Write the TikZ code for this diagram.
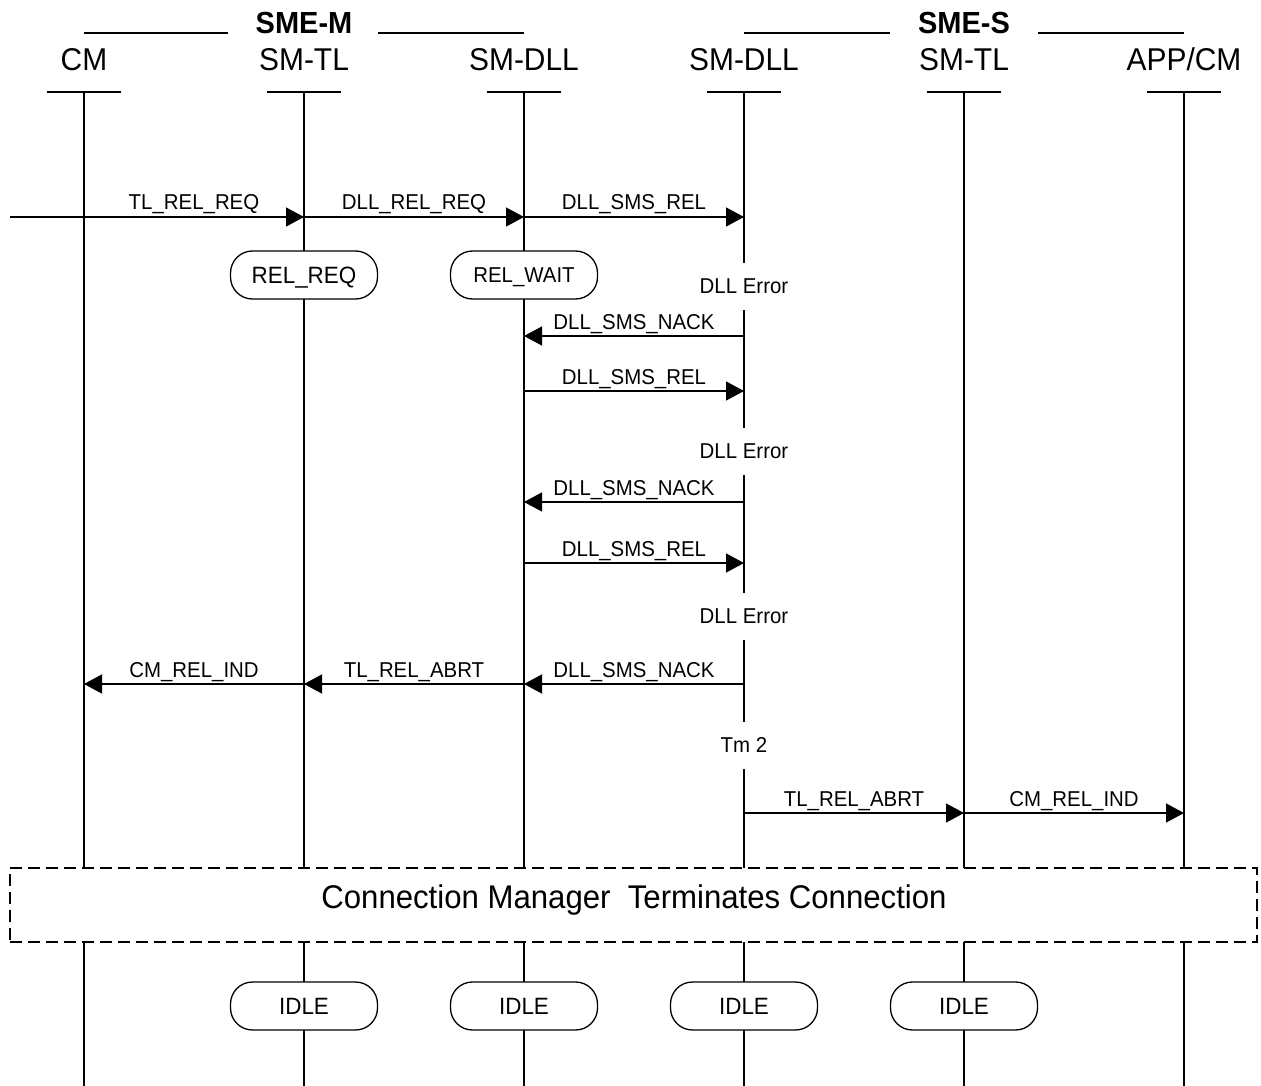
\documentclass[tikz,border=0pt]{standalone}
\usepackage{fontspec}
\setmainfont[FakeStretch=0.95]{Liberation Sans}
\usetikzlibrary{arrows.meta,calc}
\begin{document}
\begin{tikzpicture}[x=1pt,y=-1pt,line width=1.3pt,
  head/.style={font=\fontsize{31.5}{36}\selectfont, anchor=base, inner sep=0pt},
  grp/.style={font=\fontsize{30.5}{34}\selectfont\bfseries, anchor=base, inner sep=0pt},
  lbl/.style={font=\fontsize{21.5}{24}\selectfont, anchor=base, inner sep=0pt, yshift=7pt},
  note/.style={font=\fontsize{21.5}{24}\selectfont, fill=white, inner xsep=2pt, inner ysep=0pt, minimum height=47pt, text height=15.4pt, text depth=0pt},
  state/.style={draw, fill=white, rounded corners=22pt, minimum width=147pt, minimum height=48pt, inner sep=0pt, text height=16.8pt, text depth=0pt, font=\fontsize{23.6}{26}\selectfont},
  msg/.style={-{Triangle[length=18pt,width=19pt]}},
  cmbox/.style={draw, dashed, dash pattern=on 12pt off 6pt, fill=white, minimum width=1247pt, minimum height=74pt, inner sep=0pt}]
\useasboundingbox (0,0) rectangle (1261,1086);

% lifeline tops and bottoms
\foreach \i/\x in {1/84,2/304,3/524,4/744,5/964,6/1184}{
  \coordinate (L\i) at (\x,92);
  \coordinate (B\i) at (\x,1086);
}

% headers
\node[head] (hCM) at (84,71) {CM};
\node[head] (hTLm) at (304,71) {SM-TL};
\node[head] (hDLLm) at (524,71) {SM-DLL};
\node[head] (hDLLs) at (744,71) {SM-DLL};
\node[head] (hTLs) at (964,71) {SM-TL};
\node[head] (hAPP) at (1184,71) {APP/CM};
\foreach \i in {1,...,6}{
  \draw ([xshift=-37pt]L\i) -- ([xshift=37pt]L\i);
}

% group titles
\node[grp] (smem) at (304,34) {SME-M};
\node[grp] (smes) at (964,34) {SME-S};
\draw (84,33) -- (228,33);
\draw (378,33) -- (524,33);
\draw (744,33) -- (890,33);
\draw (1038,33) -- (1184,33);

% lifelines
\foreach \i in {1,...,6}{
  \draw (L\i) -- (B\i);
}

% messages
\coordinate (in) at (10,217);
\draw[msg] (in) -- (L2 |- 0,217);
\node[lbl] (m1) at ($(L1 |- 0,217)!0.5!(L2 |- 0,217)$) {TL\_REL\_REQ};
\draw[msg] (L2 |- 0,217) -- (L3 |- 0,217) node[lbl, midway] {DLL\_REL\_REQ};
\draw[msg] (L3 |- 0,217) -- (L4 |- 0,217) node[lbl, midway] {DLL\_SMS\_REL};

\node[state] (relreq) at (304,275) {REL\_REQ};
\node[state, font=\fontsize{21.5}{24}\selectfont, text height=15.4pt] (relwait) at (524,275) {REL\_WAIT};

\node[note] (err1) at (744,286) {DLL Error};
\draw[msg] (L4 |- 0,336) -- (L3 |- 0,336) node[lbl, midway] {DLL\_SMS\_NACK};
\draw[msg] (L3 |- 0,391) -- (L4 |- 0,391) node[lbl, midway] {DLL\_SMS\_REL};

\node[note] (err2) at (744,451) {DLL Error};
\draw[msg] (L4 |- 0,502) -- (L3 |- 0,502) node[lbl, midway] {DLL\_SMS\_NACK};
\draw[msg] (L3 |- 0,563) -- (L4 |- 0,563) node[lbl, midway] {DLL\_SMS\_REL};

\node[note] (err3) at (744,616) {DLL Error};
\draw[msg] (L4 |- 0,684) -- (L3 |- 0,684) node[lbl, midway] {DLL\_SMS\_NACK};
\draw[msg] (L3 |- 0,684) -- (L2 |- 0,684) node[lbl, midway] {TL\_REL\_ABRT};
\draw[msg] (L2 |- 0,684) -- (L1 |- 0,684) node[lbl, midway] {CM\_REL\_IND};

\node[note] (tm2) at (744,745) {Tm 2};
\draw[msg] (L4 |- 0,813) -- (L5 |- 0,813) node[lbl, midway] {TL\_REL\_ABRT};
\draw[msg] (L5 |- 0,813) -- (L6 |- 0,813) node[lbl, midway] {CM\_REL\_IND};

% connection manager box
\node[cmbox] (cm) at (633.5,905) {};
\node[head, font=\fontsize{32.8}{38}\selectfont] (cmtxt) at (634,908) {Connection Manager\ \ Terminates Connection};

% idle states
\node[state] (idle1) at (304,1006) {IDLE};
\node[state] (idle2) at (524,1006) {IDLE};
\node[state] (idle3) at (744,1006) {IDLE};
\node[state] (idle4) at (964,1006) {IDLE};
\end{tikzpicture}
\end{document}
